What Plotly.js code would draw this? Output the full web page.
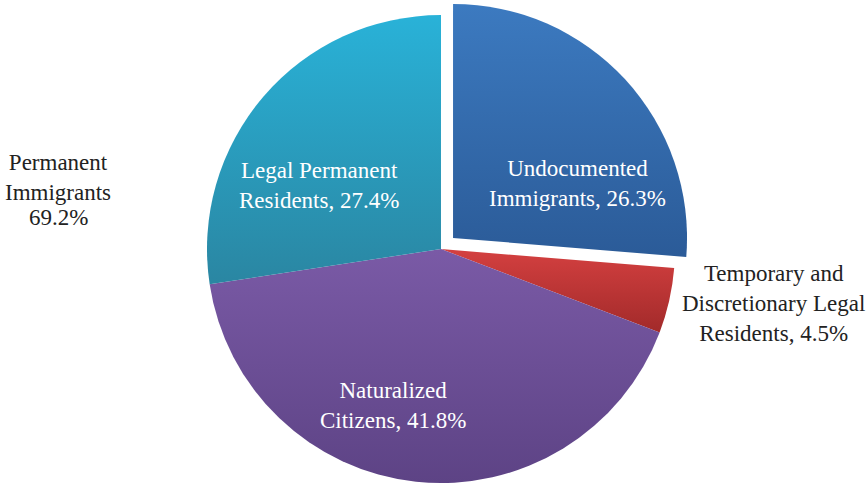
<!DOCTYPE html>
<html>
<head>
<meta charset="utf-8">
<script src="https://cdn.plot.ly/plotly-3.0.1.min.js"></script>
<style>
html,body{margin:0;padding:0;width:868px;height:487px;overflow:hidden;background:#fff;}
#chart{position:absolute;left:0;top:-16px;width:868px;height:520px;}
#chart text, #chart tspan{font-family:'Liberation Serif' !important;}
</style>
</head>
<body>
<div id="chart"></div>
<script>
// Data
const categories = ["Undocumented Immigrants", "Temporary and Discretionary Legal Residents", "Naturalized Citizens", "Legal Permanent Residents"];
const labelLines = [["Undocumented", "Immigrants, "], ["Temporary and", "Discretionary Legal", "Residents, "], ["Naturalized", "Citizens, "], ["Legal Permanent", "Residents, "]];
const shares = [26.3, 4.5, 41.8, 27.4];
const groupLabel = ["Permanent", "Immigrants"];
const groupShare = 69.2;

// Styles
const colors = ["#3369ae", "#c03636", "#6c5099", "#2a9fc4"];
const gradTop = ["#3c7ac0", "#d44040", "#7a5aa6", "#29b2d8"];
const gradBottom = ["#2b5b98", "#a22a2a", "#5d4385", "#2a86a2"];
const pulls = [0.07, 0, 0, 0];
const W = 868, H = 520, OFF = 16;
function px(x){ return x / W; }
function py(y){ return 1 - (y + OFF) / H; }

const FAMILY = "Liberation Serif";
const FSIZE = 23;
// label centers in window pixels
const labelPos = [[577, 183], [773, 303], [393, 405], [319, 186]];
const labelColor = ["#ffffff", "#222222", "#ffffff", "#ffffff"];

const annotations = categories.map((c, i) => {
  const lines = labelLines[i].slice();
  lines[lines.length - 1] = lines[lines.length - 1] + shares[i].toFixed(1) + "%";
  return {
    text: lines.join("<br>"), x: px(labelPos[i][0]), y: py(labelPos[i][1]),
    xref: "paper", yref: "paper", showarrow: false, align: "center",
    xanchor: "center", yanchor: "middle",
    font: {family: FAMILY, size: FSIZE, color: labelColor[i]}
  };
});
annotations.push({
  text: groupLabel.join("<br>"),
  x: px(58), y: py(177), xref: "paper", yref: "paper", showarrow: false,
  align: "center", xanchor: "center", yanchor: "middle",
  font: {family: FAMILY, size: FSIZE, color: "#222222"}
});
annotations.push({
  text: groupShare.toFixed(1) + "%",
  x: px(58), y: py(218), xref: "paper", yref: "paper", showarrow: false,
  align: "center", xanchor: "center", yanchor: "middle",
  font: {family: FAMILY, size: FSIZE, color: "#222222"}
});

const trace = {
  type: "pie",
  labels: categories,
  values: shares,
  sort: false,
  direction: "clockwise",
  rotation: 0,
  pull: pulls,
  marker: {colors: colors, line: {width: 0}},
  textinfo: "none",
  hoverinfo: "label+percent",
  showlegend: false,
  domain: {x: [0.2196, 0.7965], y: [0.0088, 0.9719]}
};

const layout = {
  width: W, height: H,
  margin: {l: 0, r: 0, t: 0, b: 0},
  paper_bgcolor: "#ffffff",
  plot_bgcolor: "#ffffff",
  showlegend: false,
  annotations: annotations
};

function shade(gd) {
  const svg = gd.querySelector("svg.main-svg");
  const NS = "http://www.w3.org/2000/svg";
  let defs = svg.querySelector("defs");
  if (!defs) { defs = document.createElementNS(NS, "defs"); svg.insertBefore(defs, svg.firstChild); }
  const paths = gd.querySelectorAll("g.slice path.surface");
  paths.forEach((p, i) => {
    const g = document.createElementNS(NS, "linearGradient");
    g.setAttribute("id", "sliceGrad" + i);
    g.setAttribute("x1", "0"); g.setAttribute("y1", "0");
    g.setAttribute("x2", "0"); g.setAttribute("y2", "1");
    [[0, gradTop[i]], [1, gradBottom[i]]].forEach(([o, c]) => {
      const s = document.createElementNS(NS, "stop");
      s.setAttribute("offset", o); s.setAttribute("stop-color", c);
      g.appendChild(s);
    });
    defs.appendChild(g);
    p.style.fill = "url(#sliceGrad" + i + ")";
  });
}

Plotly.newPlot("chart", [trace], layout, {staticPlot: true, displayModeBar: false}).then(shade);
</script>
</body>
</html>
